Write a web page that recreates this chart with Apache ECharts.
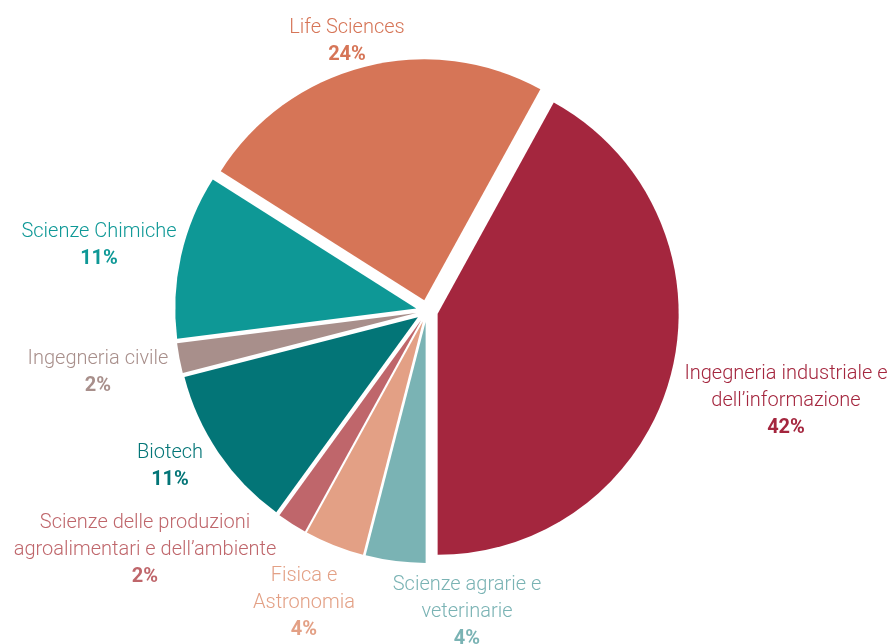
<!DOCTYPE html>
<html><head><meta charset="utf-8">
<script src="https://cdn.jsdelivr.net/npm/echarts@6/dist/echarts.min.js"></script>
<style>html,body{margin:0;padding:0;background:#fff}#c{width:890px;height:644px}</style>
</head><body><div id="c"></div>
<script>
const categories = [
  'Scienze agrarie e\nveterinarie',
  'Fisica e\nAstronomia',
  'Scienze delle produzioni\nagroalimentari e dell’ambiente',
  'Biotech',
  'Ingegneria civile',
  'Scienze Chimiche',
  'Life Sciences',
  'Ingegneria industriale e\ndell’informazione'
];
const values = [4, 4, 2, 11, 2, 11, 24, 42];
const colors = ['#7AB3B4', '#E3A085', '#BF666B', '#037577', '#A88F8B', '#0E9896', '#D67557', '#A4263E'];
const labelX = [467, 304, 145, 170, 98, 99, 347, 786];
const labelY = [612, 603, 550, 466, 372, 245, 41, 401];

const FONT = 'Roboto';
const CENTER = [427, 311];
const RADIUS = 241;
const chart = echarts.init(document.getElementById('c'), null, {renderer: 'canvas'});
chart.setOption({
  animation: false,
  series: [{
    // exploded slices
    type: 'pie',
    center: CENTER,
    radius: RADIUS,
    startAngle: -90,
    clockwise: true,
    selectedMode: 'multiple',
    selectedOffset: 11,
    emphasis: {disabled: true},
    itemStyle: {borderWidth: 0},
    label: {show: false},
    labelLine: {show: false},
    data: categories.map((name, i) => ({
      name: name,
      value: values[i],
      selected: true,
      itemStyle: {color: colors[i]}
    }))
  }, {
    // labels (transparent sectors)
    type: 'pie',
    center: CENTER,
    radius: RADIUS,
    startAngle: -90,
    clockwise: true,
    silent: true,
    emphasis: {disabled: true},
    itemStyle: {color: 'rgba(0,0,0,0)', borderWidth: 0},
    labelLine: {show: false},
    label: {
      show: true,
      position: 'outside',
      overflow: 'none',
      align: 'center',
      formatter: function (p) {
        const lines = categories[p.dataIndex].split('\n').map(s => '{n|' + s + '}');
        return lines.join('\n') + '\n{p|' + values[p.dataIndex] + '%}';
      },
      rich: {
        n: {fontFamily: FONT, fontWeight: 300, fontSize: 20, lineHeight: 27, align: 'center'},
        p: {fontFamily: FONT, fontWeight: 'bold', fontSize: 20, lineHeight: 27, align: 'center'}
      }
    },
    labelLayout: function (params) {
      const i = params.dataIndex;
      return {x: labelX[i], y: labelY[i], align: 'center', verticalAlign: 'middle'};
    },
    data: categories.map((name, i) => ({
      name: name,
      value: values[i],
      label: {color: colors[i]}
    }))
  }]
});
</script>
</body></html>
